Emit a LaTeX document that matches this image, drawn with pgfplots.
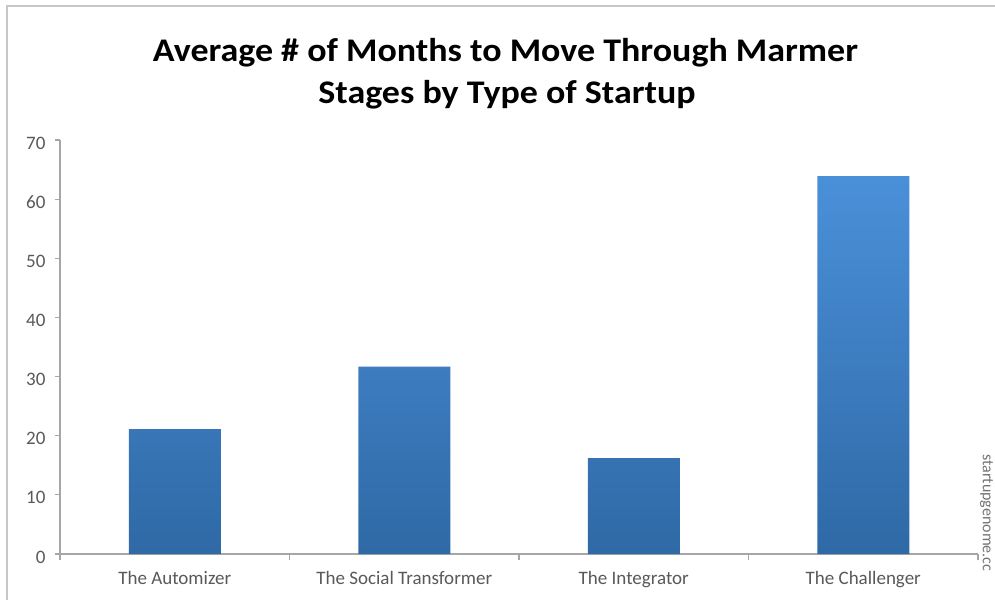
\documentclass[border=0pt]{standalone}
\usepackage{pgfplots}
\pgfplotsset{compat=1.18}
\usepackage{fontspec}
\setmainfont{Carlito}
\definecolor{bartop}{HTML}{4A90D9}
\definecolor{barbot}{HTML}{2F69A6}
\definecolor{axisgray}{HTML}{A6A6A6}
\definecolor{labgray}{HTML}{595959}
\begin{document}
\begin{tikzpicture}[x=1pt,y=1pt]
\useasboundingbox (0,0) rectangle (995,600);
\fill[white] (0,0) rectangle (995,600);
\draw[color=black!22, line width=2pt] (7,0) -- (7,594) -- (995,594);
\node[font=\fontsize{33}{33}\selectfont\bfseries, anchor=base, text=black, xscale=1.09, inner sep=0pt] at (505.5,538) {Average \# of Months to Move Through Marmer};
\node[font=\fontsize{33}{33}\selectfont\bfseries, anchor=base, text=black, xscale=1.09, inner sep=0pt] at (507,496) {Stages by Type of Startup};
\node[rotate=-90, anchor=south west, font=\fontsize{16}{16}\selectfont, text=black!55, inner sep=0pt] at (980,146) {startupgenome.cc};
\begin{axis}[
  at={(60pt,46pt)}, anchor=south west,
  scale only axis, width=918pt, height=414pt,
  xmin=0.5, xmax=4.5, ymin=0, ymax=70,
  axis x line*=bottom, axis y line*=left,
  axis line style={-, axisgray, line width=1.2pt},
  ytick={0,10,...,70},
  xtick={1,2,3,4},
  xticklabels={The Automizer, The Social Transformer, The Integrator, The Challenger},
  minor xtick={0.5,1.5,2.5,3.5,4.5},
  major x tick style={draw=none},
  tick align=outside,
  major tick length=5pt, minor tick length=6pt,
  tick style={axisgray, line width=1.2pt},
  /pgf/number format/assume math mode=true,
  ticklabel style={font=\fontsize{19}{19}\selectfont, text=labgray},
  xticklabel style={yshift=-9pt},
  yticklabel style={xshift=-6pt, yshift=-3pt},
  ybar, bar width=92pt,
]
\addplot[draw=none, top color=bartop, bottom color=barbot] coordinates {(1,21.1) (2,31.7) (3,16.2) (4,63.9)};
\end{axis}
\end{tikzpicture}
\end{document}
